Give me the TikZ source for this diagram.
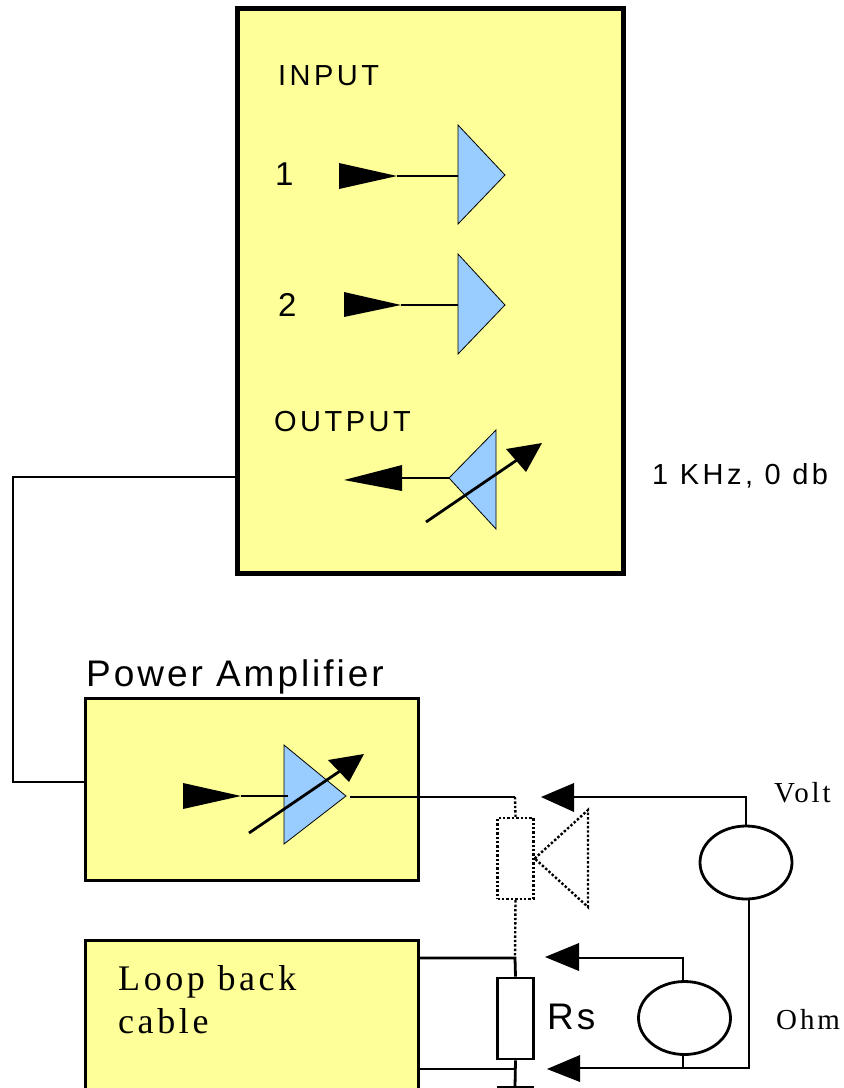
\documentclass[tikz,border=0pt]{standalone}
\usepackage{fontspec}
\usetikzlibrary{shapes.geometric}
\newfontfamily\labelsans[LetterSpace=8]{Liberation Sans}
\newfontfamily\widesans[LetterSpace=12]{Liberation Sans}
\newfontfamily\labelserif[LetterSpace=10]{Liberation Serif}
\definecolor{panelyellow}{HTML}{FFFF99}
\definecolor{ampblue}{HTML}{99CCFF}
\tikzset{
    panel/.style={draw, fill=panelyellow, line width=3pt, inner sep=0pt},
    meter/.style={draw, ellipse, fill=white, line width=2.8pt, inner sep=0pt, minimum width=92pt, minimum height=73pt},
    resistor/.style={draw, fill=white, line width=2.8pt, inner sep=0pt, minimum width=36pt, minimum height=81pt},
    wire/.style={line width=2.8pt},
    thinwire/.style={line width=2.2pt},
    probe/.style={line width=2.4pt, dotted},
    amp/.style={draw, fill=ampblue, line width=0.8pt},
    head/.style={fill=black},
    sanslabel/.style={inner sep=0pt, anchor=base west, font=\labelsans\fontsize{#1}{#1}\selectfont},
    widelabel/.style={inner sep=0pt, anchor=base west, font=\widesans\fontsize{#1}{#1}\selectfont},
    seriflabel/.style={inner sep=0pt, anchor=base west, align=left, font=\labelserif\fontsize{#1}{#1}\selectfont}
}
\begin{document}
\begin{tikzpicture}[x=1pt, y=-1pt]
    \clip (0, 0) rectangle (844, 1088);
    \useasboundingbox (0, 0) rectangle (844, 1088);

    % kasten oben
    \node[panel, line width=5pt, minimum width=386pt, minimum height=565pt] (mixer) at (430, 290.5) {};
    \node[widelabel=29] (input) at (278, 85) {INPUT};
    \node[sanslabel=33] (one) at (275, 185) {1};
    \node[sanslabel=33] (two) at (278, 316) {2};
    \node[widelabel=29] (output) at (274, 431) {OUTPUT};
    \node[widelabel=29] (level) at (652, 484) {1 KHz, 0 db};

    % eingang 1
    \draw[thinwire] (397, 176) -- (458, 176);
    \fill[head] (339, 163) -- (397, 176) -- (339, 189) -- cycle;
    \draw[amp] (458, 125) -- (505, 175) -- (458, 224) -- cycle;

    % eingang 2
    \draw[thinwire] (401, 305) -- (458, 305);
    \fill[head] (344, 292) -- (401, 305) -- (344, 317) -- cycle;
    \draw[amp] (458, 254) -- (505, 305) -- (458, 354) -- cycle;

    % ausgang
    \draw[amp] (496, 430) -- (449, 478) -- (496, 529) -- cycle;
    \draw[wire] (449, 478) -- (402, 478);
    \fill[head] (402, 465) -- (344, 480) -- (402, 491) -- cycle;
    \draw[wire] (426, 522) -- (517, 460);
    \fill[head] (542, 443) -- (506, 449) -- (526, 472) -- cycle;

    % endstufe
    \node[panel, minimum width=333pt, minimum height=182pt] (power) at (251.5, 789) {};
    \node[sanslabel=37] (powerlabel) at (86, 686) {Power Amplifier};
    \coordinate (bendtop) at (13, 477);
    \coordinate (bendlow) at (13, 782);
    \draw[wire] (mixer.west |- bendtop) -- (bendtop) -- (bendlow) -- (power.west |- bendlow);
    \draw[amp] (284, 745) -- (346, 796) -- (284, 844) -- cycle;
    \draw[thinwire] (241, 796) -- (288, 796);
    \fill[head] (183, 783) -- (241, 796) -- (183, 809) -- cycle;
    \draw[wire] (249, 833) -- (340, 771);
    \fill[head] (364, 754) -- (328, 760) -- (349, 782) -- cycle;

    % schleife
    \node[panel, minimum width=333pt, minimum height=170pt] (loop) at (251.5, 1025) {};
    \node[seriflabel=36] (looplabel) at (118, 990) {Loop back};
    \node[seriflabel=36] (cablelabel) at (118, 1033) {cable};

    % punktierter teil
    \coordinate (ampout) at (350, 797);
    \coordinate (tap) at (515, 797);
    \draw[wire] (ampout) -- (tap);
    \node[draw, probe, minimum width=36pt, minimum height=81pt, inner sep=0pt] (ghost) at (515.5, 858.5) {};
    \draw[probe] (tap) -- (ghost.north);
    \draw[probe] (ghost.east) -- (588, 810) -- (588, 907) -- cycle;

    % widerstand
    \node[resistor] (rs) at (515.5, 1018.5) {};
    \node[sanslabel=37] (rslabel) at (547, 1029) {Rs};
    \coordinate (rstop) at (515, 958);
    \coordinate (rslow) at (515, 1069);
    \coordinate (ground) at (515, 1087);
    \draw[probe] (ghost.south) -- (rstop);
    \draw[wire] (loop.east |- rstop) -- (rstop) -- (rs.north);
    \draw[wire] (loop.east |- rslow) -- (rslow);
    \draw[wire] (rs.south) -- (ground);
    \draw[wire] (497, 1087) -- (534, 1087);

    % messgeraete
    \node[meter] (volt) at (746, 862.5) {};
    \node[meter] (ohm) at (684.5, 1018) {};
    \node[seriflabel=29] (voltlabel) at (774, 802) {Volt};
    \node[seriflabel=29] (ohmlabel) at (776, 1029) {Ohm};
    \coordinate (voltbend) at (746, 797);
    \coordinate (voltlow) at (749, 1068);
    \coordinate (ohmbend) at (683, 958);
    \coordinate (ohmlow) at (683, 1068);

    % leitungen mit spitzen
    \draw[wire] (volt.north) -- (voltbend) -- (570, 797);
    \fill[head] (541, 797) -- (574, 783) -- (574, 812) -- cycle;
    \draw[wire] (ohmbend |- ohm.north) -- (ohmbend) -- (575, 958);
    \fill[head] (545, 957) -- (579, 943) -- (579, 971) -- cycle;
    \draw[wire] (ohmlow |- ohm.south) -- (ohmlow);
    \draw[wire] (voltlow |- volt.south) -- (voltlow) -- (575, 1068);
    \fill[head] (547, 1069) -- (580, 1055) -- (580, 1082) -- cycle;
\end{tikzpicture}
\end{document}
